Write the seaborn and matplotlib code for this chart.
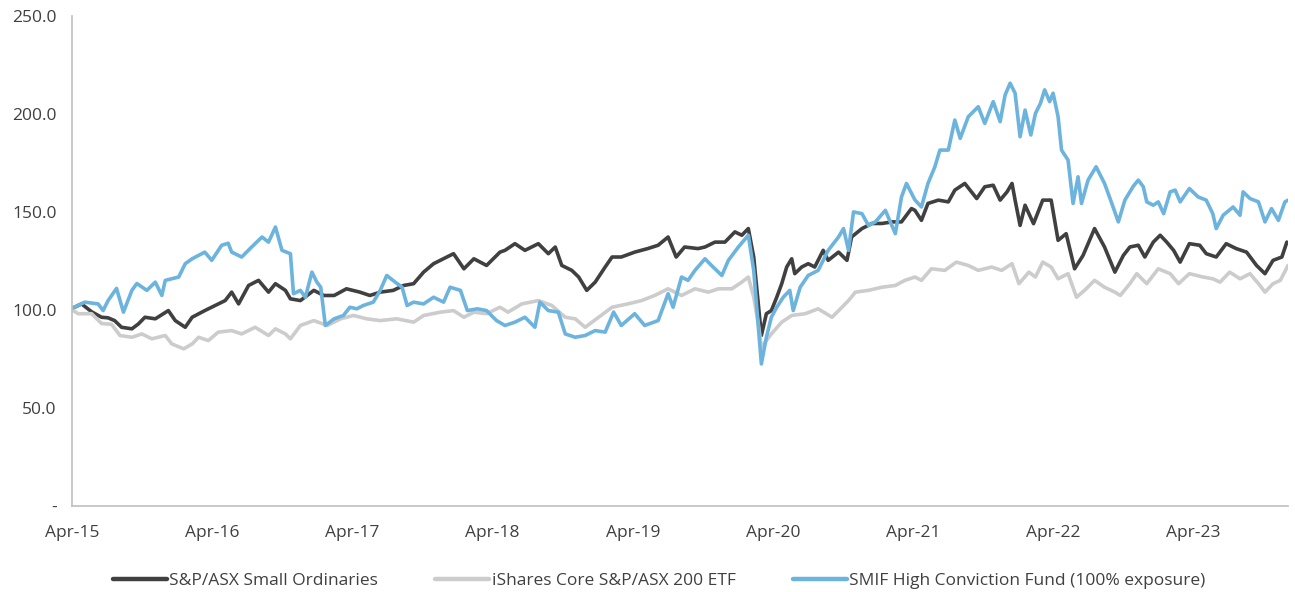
import pandas as pd
import matplotlib
matplotlib.use('Agg')
import matplotlib.pyplot as plt
import matplotlib.dates as mdates
from matplotlib.ticker import FuncFormatter
import seaborn as sns

# Series names (legend order)
names = ['S&P/ASX Small Ordinaries',
         'iShares Core S&P/ASX 200 ETF',
         'SMIF High Conviction Fund (100% exposure)']

# S&P/ASX Small Ordinaries
small_dates = [
    '2015-04-01', '2015-04-26', '2015-05-22', '2015-06-17', '2015-07-04', '2015-07-21',
    '2015-08-08', '2015-09-04', '2015-09-21', '2015-10-08', '2015-11-04', '2015-12-08',
    '2015-12-26', '2016-01-21', '2016-02-08', '2016-03-12', '2016-04-08', '2016-05-04',
    '2016-05-21', '2016-06-08', '2016-07-04', '2016-07-30', '2016-08-25', '2016-09-12',
    '2016-10-08', '2016-10-21', '2016-11-16', '2016-12-21', '2017-01-16', '2017-02-12',
    '2017-03-16', '2017-04-20', '2017-05-16', '2017-06-12', '2017-07-16', '2017-08-12',
    '2017-09-07', '2017-10-03', '2017-10-29', '2017-12-03', '2017-12-20', '2018-01-16',
    '2018-02-11', '2018-03-16', '2018-04-20', '2018-05-03', '2018-05-29', '2018-06-24',
    '2018-07-29', '2018-08-24', '2018-09-11', '2018-09-28', '2018-10-24', '2018-11-11',
    '2018-12-02', '2018-12-24', '2019-01-19', '2019-02-06', '2019-03-02', '2019-04-06',
    '2019-05-10', '2019-06-06', '2019-07-02', '2019-07-23', '2019-08-14', '2019-09-18',
    '2019-10-06', '2019-11-01', '2019-11-27', '2019-12-23', '2020-01-10', '2020-01-27',
    '2020-02-10', '2020-02-22', '2020-03-01', '2020-03-14', '2020-03-27', '2020-04-10',
    '2020-04-23', '2020-05-06', '2020-05-19', '2020-05-27', '2020-06-14', '2020-07-01',
    '2020-07-18', '2020-08-09', '2020-08-22', '2020-09-18', '2020-10-10', '2020-10-22',
    '2020-11-18', '2020-12-14', '2021-01-09', '2021-02-05', '2021-03-01', '2021-03-27',
    '2021-04-05', '2021-04-22', '2021-05-09', '2021-06-05', '2021-07-01', '2021-07-18',
    '2021-08-13', '2021-09-13', '2021-10-04', '2021-10-26', '2021-11-13', '2021-12-01',
    '2021-12-14', '2021-12-22', '2022-01-04', '2022-01-17', '2022-02-08', '2022-03-04',
    '2022-03-26', '2022-04-13', '2022-05-04', '2022-05-26', '2022-06-17', '2022-07-17',
    '2022-08-12', '2022-09-08', '2022-09-30', '2022-10-17', '2022-11-08', '2022-11-25',
    '2022-12-17', '2023-01-04', '2023-01-21', '2023-02-08', '2023-02-25', '2023-03-21',
    '2023-04-17', '2023-05-04', '2023-05-30', '2023-06-25', '2023-07-21', '2023-08-17',
    '2023-09-12', '2023-10-04', '2023-10-25', '2023-11-17', '2023-11-30']
small_vals = [
    100.7, 103.0, 99.0, 96.2, 95.9, 94.5,
    91.1, 90.3, 92.8, 96.2, 95.4, 99.6,
    94.5, 91.1, 96.2, 99.6, 102.2, 104.7,
    109.0, 103.0, 112.4, 115.0, 109.0, 113.3,
    109.9, 105.6, 104.7, 109.9, 107.3, 107.3,
    110.7, 109.0, 107.3, 109.0, 109.9, 112.4,
    113.3, 119.2, 123.5, 126.9, 128.6, 120.9,
    126.0, 122.6, 129.4, 130.3, 133.7, 130.3,
    133.7, 128.6, 132.0, 122.6, 120.1, 116.7,
    109.9, 114.1, 121.8, 126.9, 126.9, 129.4,
    131.2, 132.9, 137.1, 126.9, 132.0, 131.2,
    132.0, 134.5, 134.5, 139.7, 138.0, 141.4,
    126.9, 103.0, 86.9, 98.0, 99.6, 106.4,
    113.3, 121.8, 126.0, 118.4, 121.8, 123.5,
    121.8, 130.3, 125.2, 129.4, 125.2, 137.1,
    141.4, 144.0, 144.0, 144.8, 144.8, 151.6,
    150.7, 145.6, 154.2, 155.9, 155.0, 161.0,
    164.4, 156.7, 162.7, 163.5, 155.9, 160.1,
    164.4, 155.9, 143.0, 153.3, 143.9, 155.9,
    155.9, 135.4, 138.8, 120.9, 127.7, 141.4,
    132.0, 119.2, 127.7, 132.0, 132.9, 126.9,
    134.5, 138.0, 134.5, 130.3, 124.3, 133.7,
    132.9, 128.6, 126.9, 133.7, 131.2, 129.4,
    122.6, 118.4, 125.2, 126.9, 134.5]

# iShares Core S&P/ASX 200 ETF
etf_dates = [
    '2015-04-01', '2015-04-17', '2015-05-22', '2015-06-17', '2015-07-13', '2015-08-04',
    '2015-09-04', '2015-09-30', '2015-10-26', '2015-11-30', '2015-12-17', '2016-01-17',
    '2016-02-08', '2016-02-25', '2016-03-21', '2016-04-16', '2016-05-21', '2016-06-16',
    '2016-07-21', '2016-08-25', '2016-09-12', '2016-10-08', '2016-10-21', '2016-11-16',
    '2016-12-21', '2017-01-25', '2017-03-01', '2017-04-03', '2017-05-08', '2017-06-12',
    '2017-07-25', '2017-09-07', '2017-10-03', '2017-11-16', '2017-12-20', '2018-01-16',
    '2018-02-11', '2018-03-16', '2018-04-20', '2018-05-11', '2018-06-16', '2018-07-29',
    '2018-09-02', '2018-10-07', '2018-11-02', '2018-11-28', '2019-01-02', '2019-02-06',
    '2019-03-19', '2019-04-24', '2019-05-28', '2019-07-02', '2019-08-06', '2019-09-10',
    '2019-10-15', '2019-11-10', '2019-12-15', '2020-01-10', '2020-01-27', '2020-02-10',
    '2020-02-22', '2020-03-01', '2020-03-27', '2020-04-23', '2020-05-19', '2020-06-23',
    '2020-07-27', '2020-09-01', '2020-09-27', '2020-10-14', '2020-11-01', '2020-12-05',
    '2021-01-09', '2021-02-13', '2021-03-10', '2021-04-05', '2021-04-22', '2021-05-18',
    '2021-06-22', '2021-07-22', '2021-08-22', '2021-09-17', '2021-10-22', '2021-11-17',
    '2021-12-14', '2022-01-01', '2022-01-27', '2022-02-13', '2022-03-04', '2022-03-26',
    '2022-04-13', '2022-05-09', '2022-05-31', '2022-06-21', '2022-07-17', '2022-08-12',
    '2022-09-08', '2022-09-22', '2022-10-17', '2022-11-04', '2022-11-30', '2022-12-30',
    '2023-01-30', '2023-02-21', '2023-03-21', '2023-04-26', '2023-05-21', '2023-06-09',
    '2023-07-04', '2023-07-31', '2023-08-26', '2023-09-21', '2023-10-04', '2023-10-25',
    '2023-11-13', '2023-12-03']
etf_vals = [
    100.0, 98.0, 98.0, 93.0, 92.6, 86.9,
    86.0, 87.7, 85.2, 86.9, 82.6, 80.1,
    82.6, 86.0, 84.3, 88.6, 89.4, 87.7,
    91.1, 86.9, 90.3, 87.7, 85.2, 92.0,
    94.5, 92.0, 95.4, 97.1, 95.4, 94.5,
    95.4, 93.7, 97.1, 98.8, 99.6, 96.2,
    98.8, 98.0, 101.3, 98.8, 103.0, 104.7,
    102.2, 96.2, 95.4, 91.1, 96.2, 101.3,
    103.0, 104.7, 107.3, 110.7, 107.3, 110.7,
    109.0, 110.7, 110.7, 114.1, 116.7, 106.4,
    92.8, 80.9, 87.7, 93.7, 97.1, 98.0,
    100.5, 96.2, 101.3, 104.7, 109.0, 109.9,
    111.5, 112.4, 115.0, 116.7, 115.0, 120.9,
    120.1, 124.3, 122.6, 120.1, 121.8, 120.1,
    123.5, 113.3, 119.2, 116.7, 124.3, 121.8,
    115.8, 118.4, 106.4, 109.9, 115.0, 111.5,
    109.0, 107.3, 113.3, 118.4, 113.3, 120.9,
    118.4, 113.3, 118.4, 116.7, 115.8, 114.1,
    119.2, 115.8, 118.4, 112.4, 109.0, 113.3,
    115.0, 122.6]

# SMIF High Conviction Fund (100% exposure)
smif_dates = [
    '2015-04-01', '2015-05-04', '2015-06-08', '2015-06-21', '2015-07-04', '2015-07-26',
    '2015-08-13', '2015-09-04', '2015-09-17', '2015-10-13', '2015-11-04', '2015-11-21',
    '2015-11-30', '2016-01-04', '2016-01-21', '2016-02-08', '2016-03-12', '2016-03-30',
    '2016-04-25', '2016-05-12', '2016-05-21', '2016-06-16', '2016-07-12', '2016-08-08',
    '2016-08-25', '2016-09-12', '2016-09-29', '2016-10-21', '2016-10-29', '2016-11-16',
    '2016-11-29', '2016-12-16', '2016-12-29', '2017-01-08', '2017-01-20', '2017-02-12',
    '2017-03-08', '2017-03-25', '2017-04-12', '2017-04-29', '2017-05-25', '2017-06-12',
    '2017-06-29', '2017-07-21', '2017-08-08', '2017-08-21', '2017-09-07', '2017-10-03',
    '2017-10-29', '2017-11-24', '2017-12-11', '2018-01-07', '2018-01-25', '2018-02-20',
    '2018-03-16', '2018-04-11', '2018-05-03', '2018-05-29', '2018-06-24', '2018-07-20',
    '2018-08-02', '2018-08-24', '2018-09-19', '2018-10-07', '2018-11-02', '2018-11-28',
    '2018-12-24', '2019-01-19', '2019-02-10', '2019-03-02', '2019-04-06', '2019-05-02',
    '2019-06-06', '2019-07-02', '2019-07-15', '2019-08-06', '2019-08-23', '2019-09-10',
    '2019-10-06', '2019-10-23', '2019-11-19', '2019-12-06', '2020-01-01', '2020-01-27',
    '2020-02-10', '2020-02-22', '2020-03-01', '2020-03-14', '2020-03-27', '2020-04-10',
    '2020-04-27', '2020-05-14', '2020-05-23', '2020-06-10', '2020-07-01', '2020-07-27',
    '2020-08-22', '2020-09-18', '2020-10-01', '2020-10-14', '2020-10-27', '2020-11-18',
    '2020-12-05', '2020-12-23', '2021-01-18', '2021-02-13', '2021-03-01', '2021-03-14',
    '2021-04-05', '2021-04-22', '2021-05-09', '2021-05-27', '2021-06-09', '2021-07-01',
    '2021-07-18', '2021-08-01', '2021-08-22', '2021-09-17', '2021-10-04', '2021-10-26',
    '2021-11-13', '2021-11-26', '2021-12-09', '2021-12-22', '2022-01-04', '2022-01-17',
    '2022-02-01', '2022-02-13', '2022-02-26', '2022-03-09', '2022-03-22', '2022-03-31',
    '2022-04-13', '2022-04-22', '2022-05-09', '2022-05-22', '2022-06-04', '2022-06-13',
    '2022-06-30', '2022-07-21', '2022-08-12', '2022-08-31', '2022-09-17', '2022-10-04',
    '2022-10-26', '2022-11-08', '2022-11-21', '2022-11-30', '2022-12-17', '2022-12-30',
    '2023-01-13', '2023-01-30', '2023-02-12', '2023-02-25', '2023-03-21', '2023-04-13',
    '2023-05-04', '2023-05-21', '2023-05-30', '2023-06-17', '2023-07-13', '2023-07-31',
    '2023-08-08', '2023-08-26', '2023-09-17', '2023-10-04', '2023-10-21', '2023-11-08',
    '2023-11-25', '2023-12-03']
smif_vals = [
    100.7, 103.9, 103.0, 99.6, 104.7, 110.9,
    98.8, 109.9, 113.4, 109.9, 114.1, 107.3,
    115.0, 116.7, 123.5, 126.0, 129.4, 125.2,
    132.9, 133.9, 129.4, 126.9, 132.0, 137.1,
    134.5, 142.2, 130.3, 128.6, 108.2, 109.9,
    106.4, 119.2, 114.1, 111.5, 92.0, 95.4,
    97.1, 101.3, 100.5, 102.2, 103.9, 109.9,
    117.5, 114.1, 111.5, 102.2, 103.9, 103.0,
    106.4, 103.9, 111.5, 109.9, 99.6, 100.5,
    99.6, 94.5, 92.0, 93.7, 96.2, 91.1,
    103.9, 99.6, 98.8, 87.7, 86.0, 86.9,
    89.4, 88.6, 98.8, 92.0, 98.0, 92.0,
    94.5, 108.2, 101.3, 116.7, 115.0, 120.1,
    126.0, 122.6, 117.5, 125.2, 132.0, 138.0,
    120.1, 91.1, 72.4, 86.0, 96.2, 101.3,
    106.4, 109.9, 99.6, 111.5, 117.5, 120.1,
    130.3, 137.1, 141.4, 130.3, 149.9, 149.0,
    143.0, 144.8, 150.7, 138.8, 157.5, 164.4,
    156.0, 152.4, 164.4, 172.9, 181.4, 181.4,
    196.7, 187.4, 198.4, 203.5, 195.0, 206.1,
    195.9, 209.5, 215.5, 210.4, 188.2, 201.8,
    189.1, 200.1, 205.2, 212.1, 206.1, 210.4,
    198.4, 181.4, 176.3, 154.2, 167.8, 154.2,
    166.1, 172.9, 164.4, 154.2, 144.8, 155.9,
    163.0, 166.1, 162.7, 155.0, 153.3, 155.0,
    149.0, 160.1, 161.0, 155.0, 161.8, 157.5,
    155.9, 149.0, 141.4, 148.2, 152.4, 148.2,
    160.1, 156.7, 155.0, 144.8, 151.6, 145.6,
    155.0, 155.9]

colors = ['#404040', '#cccccc', '#6cb4dd']
text_color = '#404040'


def build_frame():
    parts = []
    for name, d, v in zip(names, [small_dates, etf_dates, smif_dates],
                          [small_vals, etf_vals, smif_vals]):
        parts.append(pd.DataFrame({'date': pd.to_datetime(d), 'value': v, 'series': name}))
    return pd.concat(parts, ignore_index=True)


def main():
    df = build_frame()

    sns.set_style('white')
    plt.rcParams['font.family'] = ['Open Sans', 'DejaVu Sans']

    fig = plt.figure(figsize=(12.95, 5.92), dpi=100)
    ax = fig.add_axes([0.0556, 0.1453, 0.939, 0.8285])

    sns.lineplot(data=df, x='date', y='value', hue='series', hue_order=names,
                 palette=colors, estimator=None, linewidth=2.6, ax=ax, legend=False)

    # Axes
    ax.set_xlim(pd.Timestamp('2015-04-01'), pd.Timestamp('2023-12-03'))
    ax.set_ylim(0, 250)
    ax.set_yticks([0, 50, 100, 150, 200, 250])
    ax.yaxis.set_major_formatter(FuncFormatter(lambda v, p: '-' if v == 0 else f'{v:.1f}'))
    ax.xaxis.set_major_locator(mdates.MonthLocator(bymonth=4))
    ax.xaxis.set_major_formatter(mdates.DateFormatter('%b-%y'))
    ax.set_xlabel('')
    ax.set_ylabel('')

    for side in ['top', 'right']:
        ax.spines[side].set_visible(False)
    for side in ['left', 'bottom']:
        ax.spines[side].set_color('#bfbfbf')
        ax.spines[side].set_linewidth(1.2)
    ax.tick_params(axis='both', which='major', direction='out', length=5, width=1.2,
                   color='#bfbfbf', labelsize=12.5, labelcolor=text_color, pad=6)
    ax.tick_params(axis='x', pad=9)

    # Legend along the bottom
    handles = [plt.Line2D([], [], color=c, linewidth=3.2) for c in colors]
    fig.legend(handles, names, loc='center', bbox_to_anchor=(0.509, 0.018), ncol=3,
               frameon=False, fontsize=12.5, labelcolor=text_color,
               handlelength=3.1, handletextpad=0.15, columnspacing=3.3)

    plt.savefig('out.png', dpi=100)
    plt.close()


if __name__ == "__main__":
    main()
